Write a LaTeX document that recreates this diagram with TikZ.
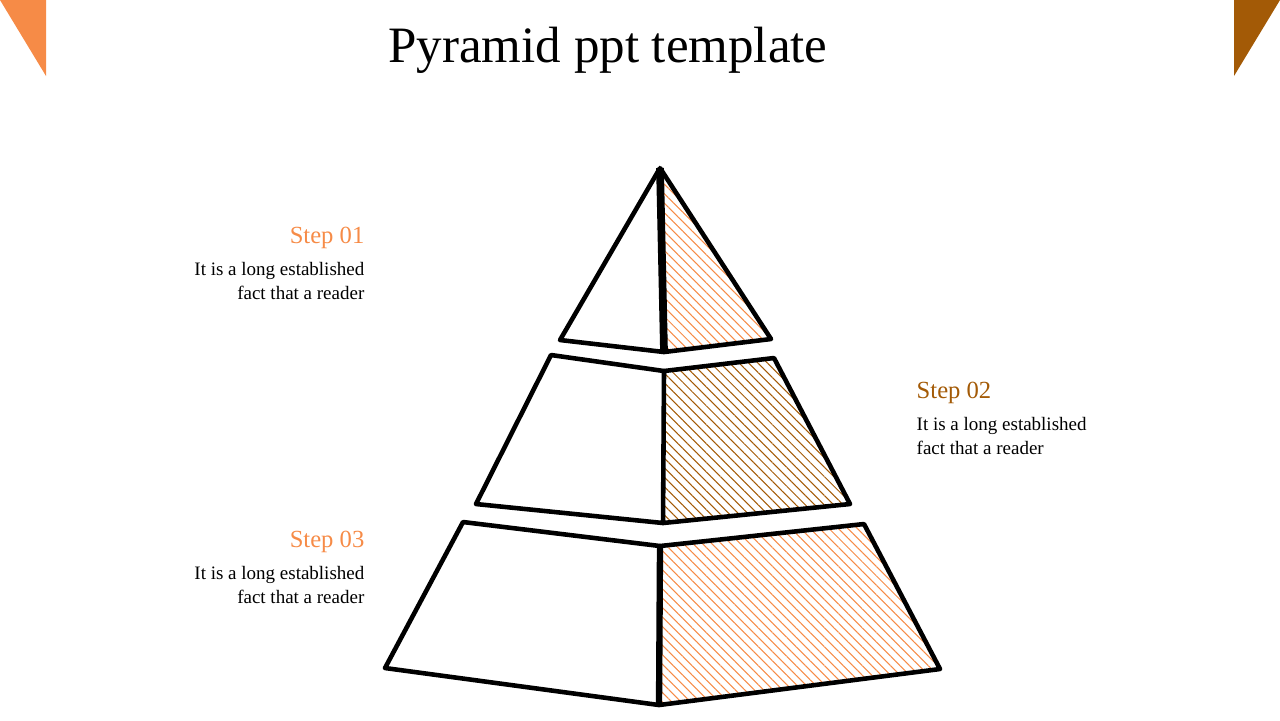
\documentclass[tikz,border=0pt]{standalone}
\usepackage{fontspec}
\setmainfont{Liberation Serif}
\usetikzlibrary{patterns.meta}
\definecolor{org}{HTML}{F68B47}
\definecolor{brn}{HTML}{A35A06}
\tikzset{edge/.style={line width=1.3pt,line join=round},
 hatchO/.style={pattern={Lines[angle=-45,distance=1.9pt,line width=0.3pt]},pattern color=org},
 hatchB/.style={pattern={Lines[angle=-45,distance=1.9pt,line width=0.3pt]},pattern color=brn},
 steplbl/.style={font=\fontsize{7}{8}\selectfont,anchor=east,inner sep=0pt},
 bodytxt/.style={font=\fontsize{5.4}{6.6}\selectfont,align=right,anchor=north east,inner sep=0pt}}
\begin{document}
\begin{tikzpicture}[x=0.01cm,y=-0.01cm]
\useasboundingbox (0,0) rectangle (1280,720);
\fill[org] (0,0) -- (46,0) -- (46,76) -- cycle;
\fill[brn] (1234,0) -- (1280,0) -- (1234,76) -- cycle;
\node[font=\fontsize{14.5}{17}\selectfont] (title) at (608,50) {Pyramid ppt template};
% top
\coordinate (a) at (660,168);
\filldraw[hatchO,edge] (a) -- (771,339) -- (664,352) -- cycle;
\draw[edge] (a) -- (560,340) -- (664,352);
\draw[line width=2.2pt] (a) -- (664,352);
% middle
\filldraw[hatchB,edge] (664,371) -- (774,358) -- (850,504) -- (663,523) -- cycle;
\draw[edge] (664,371) -- (551,355) -- (476,504) -- (663,523);
% bottom
\filldraw[hatchO,edge] (660,546) -- (864,524) -- (940,669) -- (659,705) -- cycle;
\draw[edge] (660,546) -- (463,522) -- (385,668) -- (659,705);
\draw[line width=1.8pt] (660,546) -- (659,705);
% texts
\node[steplbl,text=org] (s1) at (365,238) {Step 01};
\node[bodytxt] (b1) at (365,262) {It is a long established\\fact that a reader};
\node[steplbl,text=brn,anchor=west] (s2) at (916,393) {Step 02};
\node[bodytxt,align=left,anchor=north west] (b2) at (916,417) {It is a long established\\fact that a reader};
\node[steplbl,text=org] (s3) at (365,542) {Step 03};
\node[bodytxt] (b3) at (365,566) {It is a long established\\fact that a reader};
\end{tikzpicture}
\end{document}
